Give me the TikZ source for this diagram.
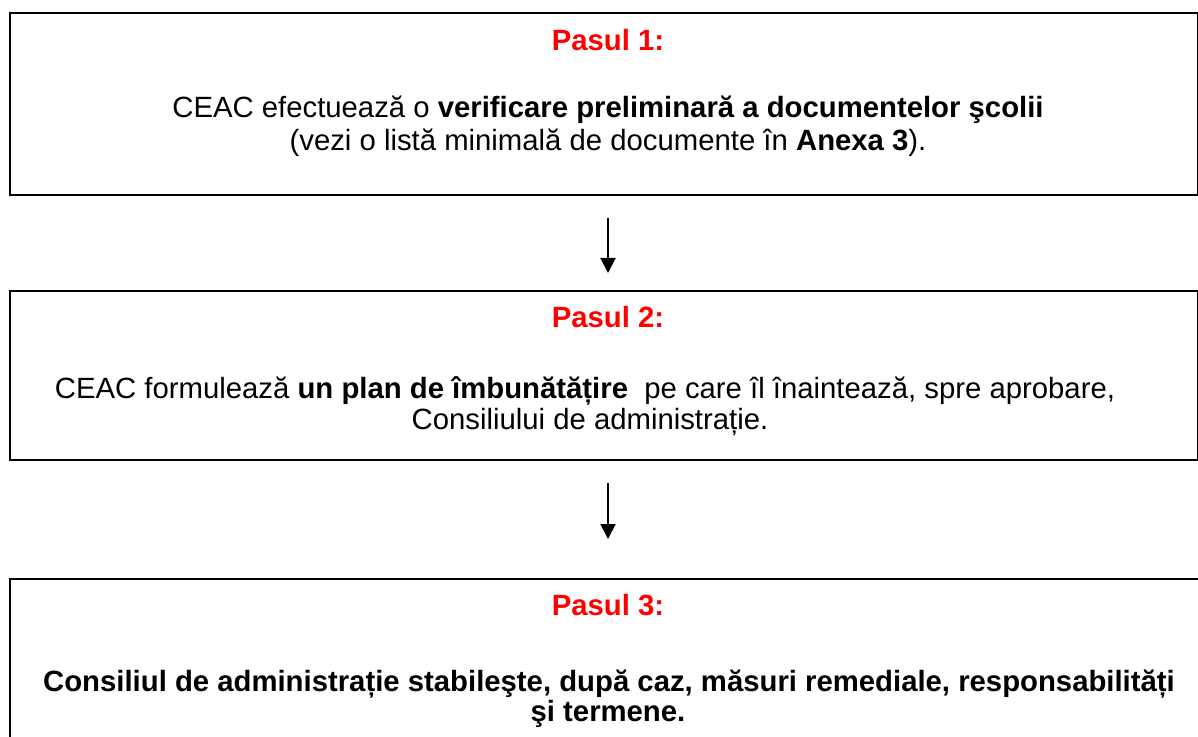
\documentclass[tikz,border=0pt]{standalone}
\usepackage{fontspec}
\setmainfont{Liberation Sans}
\definecolor{steptitle}{rgb}{1, 0, 0}
\usetikzlibrary{arrows.meta}
\usetikzlibrary{positioning}

\begin{document}
\begin{tikzpicture}[x=0.5pt,y=-0.5pt,
		stepframe/.style={draw=black, line width=1pt, inner sep=0pt, anchor=north west},
		steptitle/.style={anchor=base, inner sep=0pt, text=steptitle, font=\fontsize{14.65}{17}\selectfont\bfseries},
		steptext/.style={anchor=base, inner sep=0pt, font=\fontsize{14.65}{17}\selectfont},
		flow/.style={line width=1pt, -{Triangle[length=7.5pt,width=7.5pt]}}]
		%page
		\useasboundingbox (0,0) rectangle (1198,737);
		\clip (0,0) rectangle (1198,737);
		
		%draw boxes
		\node[stepframe, minimum width=594pt, minimum height=91pt] (box1) at (9,12) {};
		\node[stepframe, minimum width=594pt, minimum height=84.5pt] (box2) at (9,290) {};
		\node[stepframe, minimum width=605pt, minimum height=100pt] (box3) at (9,578) {};
		
		%step 1
		\node[steptitle] (title1) at (608,51) {Pasul 1:};
		\node[steptext] (text1a) at (608,118) {CEAC efectuează o \textbf{verificare preliminară a documentelor şcolii}};
		\node[steptext] (text1b) at (608,151) {(vezi o listă minimală de documente în \textbf{Anexa 3}).};
		
		%step 2
		\node[steptitle] (title2) at (608,328) {Pasul 2:};
		\node[steptext] (text2a) at (585,398) {CEAC formulează \textbf{un plan de îmbunătățire}\ \ pe care îl înaintează, spre aprobare,};
		\node[steptext] (text2b) at (590,429) {Consiliului de administrație.};
		
		%step 3
		\node[steptitle] (title3) at (608,615) {Pasul 3:};
		\node[steptext] (text3a) at (609,691) {\bfseries Consiliul de administrație stabileşte, după caz, măsuri remediale, responsabilități};
		\node[steptext] (text3b) at (608,721) {\bfseries şi termene.};
		
		%arrows
		\coordinate (from1) at (608,218);
		\coordinate (to1) at (608,273);
		\coordinate (from2) at (608,483);
		\coordinate (to2) at (608,539);
		\draw[flow] (from1) -- (to1);
		\draw[flow] (from2) -- (to2);
\end{tikzpicture}
\end{document}
